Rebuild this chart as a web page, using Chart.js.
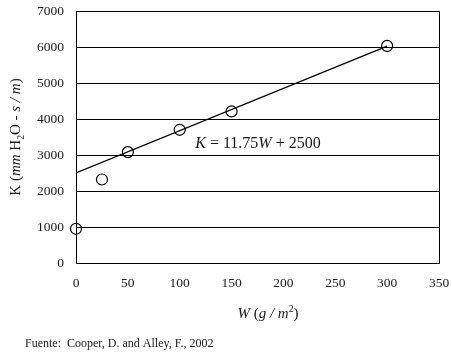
<!DOCTYPE html>
<html>
<head>
<meta charset="utf-8">
<script src="https://cdn.jsdelivr.net/npm/chart.js@4"></script>
<style>
  html, body { margin: 0; padding: 0; background: #fff; }
  #wrap { width: 452px; height: 355px; position: relative; }
</style>
</head>
<body>
<div id="wrap"><canvas id="c"></canvas></div>
<script>
// measured points
const wValues = [0, 25, 50, 100, 150, 300];
const kValues = [950, 2320, 3080, 3700, 4210, 6030];

// fitted line K = 11.75W + 2500
const fitSlope = 11.75;
const fitIntercept = 2500;
const fitRange = [0, 300];

const xTicks = [0, 50, 100, 150, 200, 250, 300, 350];
const yTicks = [0, 1000, 2000, 3000, 4000, 5000, 6000, 7000];

const SERIF = '"Liberation Serif", "Times New Roman", serif';
const INK = '#1a1a1a';

const pts = wValues.map((w, i) => ({ x: w, y: kValues[i] }));
const fit = fitRange.map(w => ({ x: w, y: fitSlope * w + fitIntercept }));

// draws text made of [text, italic, sup/sub] runs
function drawRuns(ctx, runs, x, y, size, align) {
    const fontOf = (r) => (r.italic ? 'italic ' : '') + (r.shift ? size * 0.65 : size) + 'px ' + SERIF;
    let total = 0;
    runs.forEach(r => { ctx.font = fontOf(r); total += ctx.measureText(r.t).width; });
    let cx = align === 'center' ? x - total / 2 : x;
    ctx.textAlign = 'left';
    ctx.textBaseline = 'alphabetic';
    runs.forEach(r => {
        ctx.font = fontOf(r);
        ctx.fillText(r.t, cx, y + (r.shift || 0) * size);
        cx += ctx.measureText(r.t).width;
    });
}

const extras = {
    id: 'extras',
    afterDraw(chart) {
        const ctx = chart.ctx;
        const a = chart.chartArea;
        const xs = chart.scales.x, ys = chart.scales.y;
        ctx.save();
        // plot frame
        ctx.strokeStyle = '#000';
        ctx.lineWidth = 1;
        ctx.strokeRect(Math.round(a.left) + 0.5, Math.round(a.top) + 0.5,
            Math.round(a.right - a.left), Math.round(a.bottom - a.top));
        ctx.fillStyle = INK;

        // equation label
        drawRuns(ctx, [
            { t: 'K', italic: true }, { t: ' = 11.75' }, { t: 'W', italic: true }, { t: ' + 2500' }
        ], xs.getPixelForValue(115), ys.getPixelForValue(3330) + 5, 16, 'left');

        // x title
        drawRuns(ctx, [
            { t: 'W', italic: true }, { t: ' (' }, { t: 'g / m', italic: true },
            { t: '2', shift: -0.4 }, { t: ')' }
        ], 268, 318, 15, 'center');

        // y title (rotated)
        ctx.save();
        ctx.translate(20, 137);
        ctx.rotate(-Math.PI / 2);
        drawRuns(ctx, [
            { t: 'K (' }, { t: 'mm', italic: true }, { t: ' H' }, { t: '2', shift: 0.25 },
            { t: 'O - ' }, { t: 's / m', italic: true }, { t: ')' }
        ], 0, 0, 15, 'center');
        ctx.restore();

        // source
        ctx.font = '12px ' + SERIF;
        ctx.textAlign = 'left';
        ctx.textBaseline = 'middle';
        ctx.fillText('Fuente:  Cooper, D. and Alley, F., 2002', 25, 344);
        ctx.restore();
    }
};

new Chart(document.getElementById('c'), {
    type: 'scatter',
    data: {
        datasets: [
            {
                label: 'K',
                data: pts,
                pointStyle: 'circle',
                pointRadius: 5.5,
                pointHoverRadius: 5.5,
                borderColor: '#000',
                borderWidth: 1.2,
                backgroundColor: 'rgba(0,0,0,0)',
                showLine: false,
                clip: false
            },
            {
                type: 'line',
                label: 'fit',
                data: fit,
                borderColor: '#000',
                borderWidth: 1.2,
                pointRadius: 0,
                fill: false
            }
        ]
    },
    options: {
        responsive: true, maintainAspectRatio: false, animation: false,
        layout: { padding: { top: 11, right: 13, left: 0, bottom: 0 } },
        plugins: { legend: { display: false }, tooltip: { enabled: false } },
        scales: {
            x: {
                type: 'linear', min: 0, max: 350,
                afterBuildTicks: s => { s.ticks = xTicks.map(v => ({ value: v })); },
                afterFit: s => { s.height = 92; s.paddingLeft = 0; s.paddingRight = 0; },
                grid: { display: false, drawTicks: false },
                border: { display: true, color: '#000' },
                ticks: { color: INK, padding: 12, maxRotation: 0, font: { family: SERIF, size: 13.5 },
                    callback: v => String(v) }
            },
            y: {
                type: 'linear', min: 0, max: 7000,
                afterBuildTicks: s => { s.ticks = yTicks.map(v => ({ value: v })); },
                afterFit: s => { s.width = 76; s.paddingTop = 0; s.paddingBottom = 0; },
                grid: { color: '#000', lineWidth: 1, drawTicks: false },
                border: { display: true, color: '#000' },
                ticks: { color: INK, padding: 12, font: { family: SERIF, size: 13.5 },
                    callback: v => String(v) }
            }
        }
    },
    plugins: [extras]
});
</script>
</body>
</html>
